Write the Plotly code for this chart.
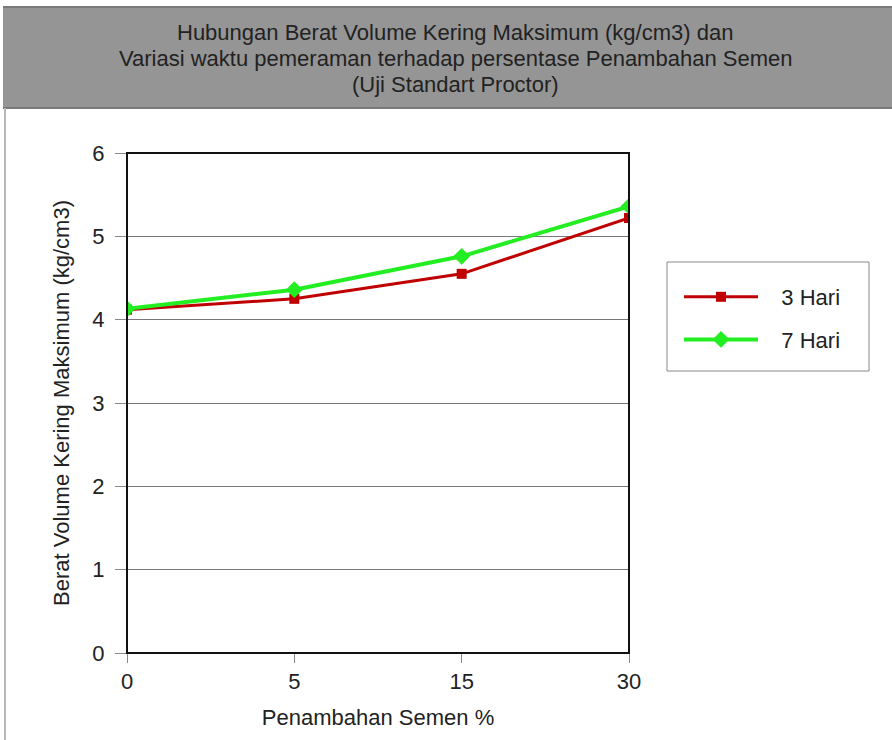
import plotly.graph_objects as go

# Data
semen_pct = ["0", "5", "15", "30"]
hari_3 = [4.12, 4.25, 4.55, 5.22]
hari_7 = [4.13, 4.36, 4.76, 5.36]
y_ticks = [0, 1, 2, 3, 4, 5, 6]
title_lines = [
    "Hubungan Berat Volume Kering Maksimum (kg/cm3) dan",
    "Variasi waktu pemeraman terhadap persentase Penambahan Semen",
    "(Uji Standart Proctor)",
]

W, H = 892, 740
L, R, T, B = 127, 263, 153, 87
PW, PH = W - L - R, H - T - B


def px_x(p):
    return (p - L) / PW


def px_y(p):
    return (H - B - p) / PH


FONT = "Liberation Sans, Arial, sans-serif"
NB = "\u00a0"

fig = go.Figure()
fig.add_trace(go.Scatter(
    x=semen_pct, y=hari_3, name=NB * 3 + "3 Hari", mode="lines+markers",
    legendgroup="a",
    line=dict(color="#C00000", width=3),
    marker=dict(symbol="square", size=10, color="#C00000"),
))
fig.add_trace(go.Scatter(
    x=semen_pct, y=hari_7, name=NB * 3 + "7 Hari", mode="lines+markers",
    legendgroup="b",
    line=dict(color="#22EE22", width=4),
    marker=dict(symbol="diamond", size=13, color="#22EE22"),
))

shapes = [
    # header band
    dict(type="rect", xref="paper", yref="paper",
         x0=px_x(3), x1=px_x(893), y0=px_y(108), y1=px_y(7),
         fillcolor="#959595", line=dict(width=0), layer="below"),
    dict(type="line", xref="paper", yref="paper",
         x0=px_x(3), x1=px_x(893), y0=px_y(7), y1=px_y(7),
         line=dict(color="#7a7a7a", width=2)),
    dict(type="line", xref="paper", yref="paper",
         x0=px_x(3), x1=px_x(893), y0=px_y(108), y1=px_y(108),
         line=dict(color="#7a7a7a", width=2)),
    # left frame edge
    dict(type="line", xref="paper", yref="paper",
         x0=px_x(5), x1=px_x(5), y0=px_y(108), y1=px_y(741),
         line=dict(color="#b8b8b8", width=2)),
    # plot frame
    dict(type="rect", xref="paper", yref="paper",
         x0=0, x1=1, y0=0, y1=1,
         line=dict(color="#111111", width=2), layer="above"),
    # legend box
    dict(type="rect", xref="paper", yref="paper",
         x0=px_x(667), x1=px_x(869), y0=px_y(371), y1=px_y(262),
         line=dict(color="#888888", width=1), fillcolor="white", layer="below"),
]

# header title, one annotation per line for tight line spacing
annotations = [
    dict(xref="paper", yref="paper", x=px_x(455), y=px_y(32 + 26 * i),
         xanchor="center", yanchor="middle", showarrow=False, text=line,
         font=dict(family=FONT, size=22, color="#222222"))
    for i, line in enumerate(title_lines)
]

fig.update_layout(
    width=W, height=H,
    margin=dict(l=L, r=R, t=T, b=B),
    paper_bgcolor="white", plot_bgcolor="white",
    font=dict(family=FONT, size=22, color="#222222"),
    shapes=shapes,
    annotations=annotations,
    showlegend=True,
    legend=dict(
        x=px_x(679), y=px_y(276), xanchor="left", yanchor="top",
        bgcolor="rgba(0,0,0,0)", borderwidth=0,
        font=dict(family=FONT, size=22, color="#222222"),
        itemwidth=74, tracegroupgap=11,
    ),
    xaxis=dict(
        type="category", range=[0, 3],
        title=dict(text="Penambahan Semen %", standoff=16,
                   font=dict(family=FONT, size=22)),
        showgrid=False, zeroline=False, showline=False,
        ticks="outside", ticklen=9, tickcolor="#888888",
        tickfont=dict(family=FONT, size=22),
    ),
    yaxis=dict(
        range=[0, 6], tickvals=y_ticks,
        title=dict(text="Berat Volume Kering Maksimum (kg/cm3)", standoff=16,
                   font=dict(family=FONT, size=22)),
        showgrid=True, gridcolor="#777777", gridwidth=1,
        zeroline=False, showline=False,
        ticks="outside", ticklen=11, tickcolor="#888888",
        ticklabelstandoff=6,
        tickfont=dict(family=FONT, size=22),
    ),
)

fig.write_html("out.html")
